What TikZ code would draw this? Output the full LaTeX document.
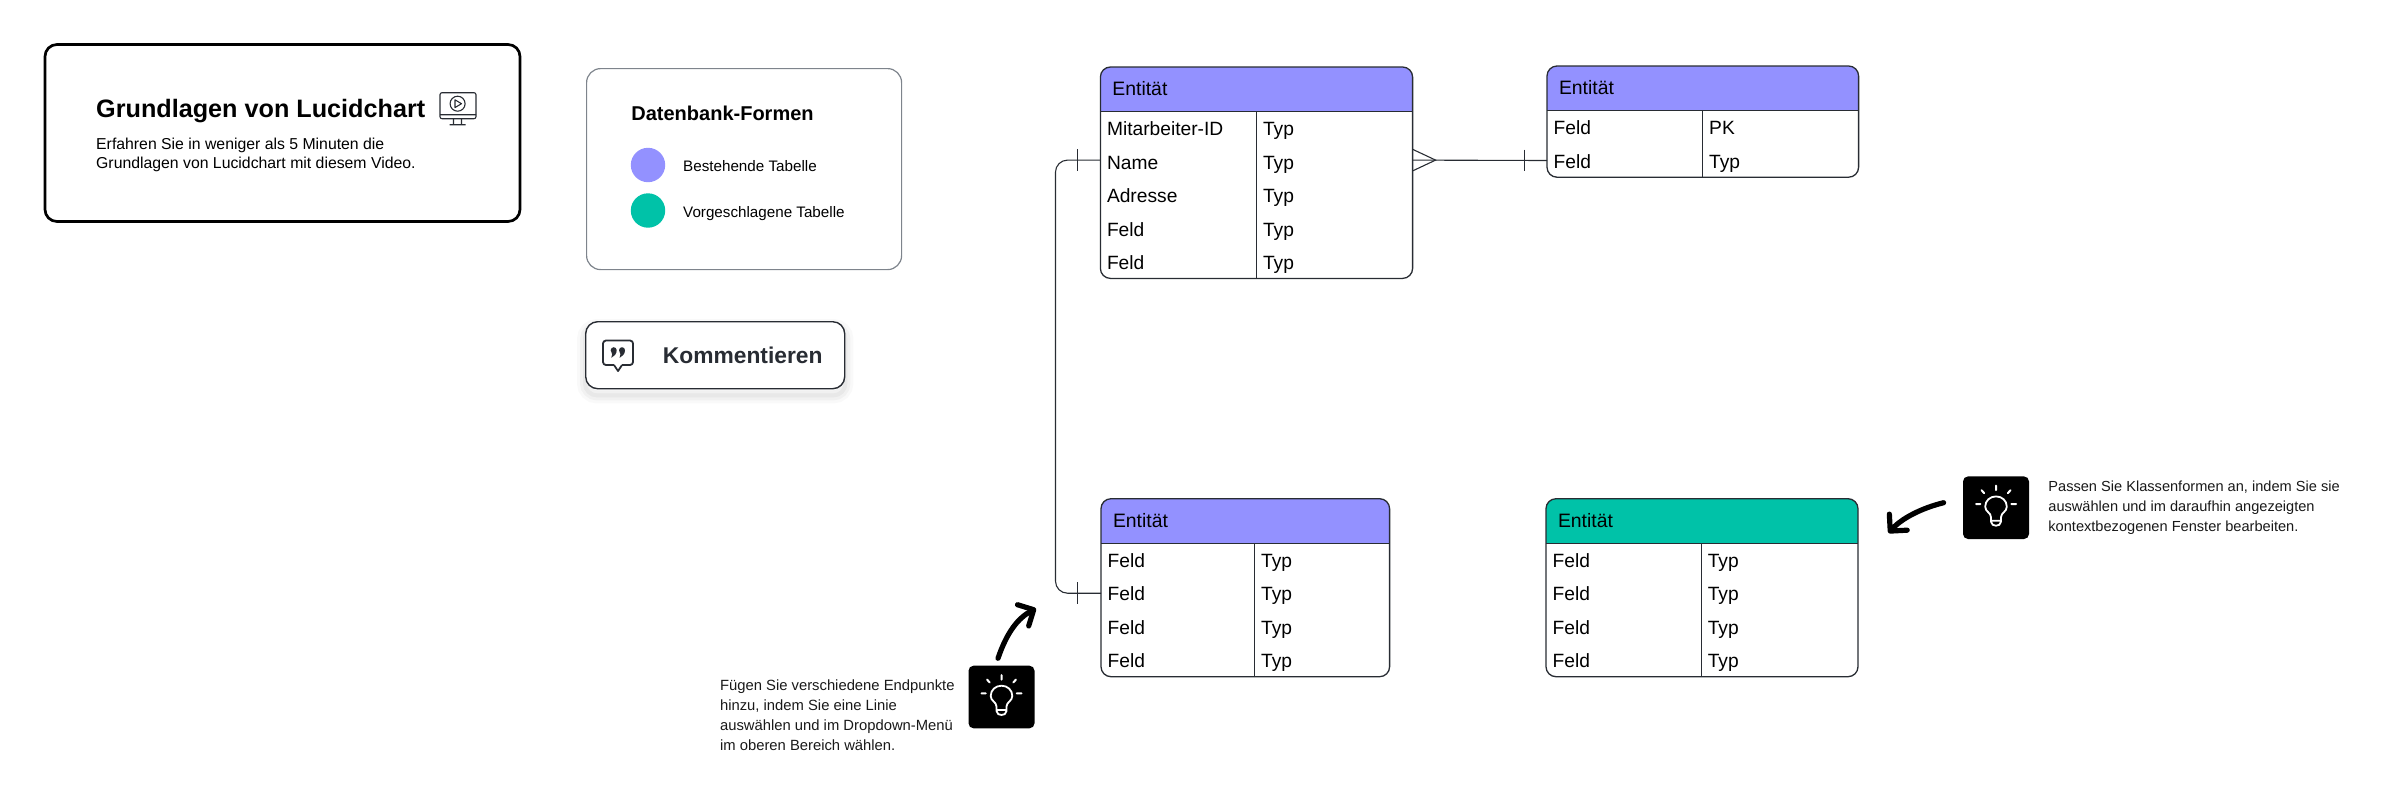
\documentclass[tikz,border=0pt]{standalone}
\usepackage{fontspec}
\setmainfont{Liberation Sans}
\usetikzlibrary{positioning,fit,backgrounds,arrows.meta}

\definecolor{hblue}{HTML}{9391FF}
\definecolor{hteal}{HTML}{00C2A8}
\definecolor{inkline}{HTML}{282C33}
\definecolor{softline}{HTML}{7E848C}

\tikzset{
  cell/.style={inner ysep=0pt, inner xsep=3.3pt, outer sep=0pt, text width=#1-6.6pt,
    text height=12.2pt, text depth=4.5pt, align=left, font=\fontsize{9.6}{11}\selectfont},
  headcell/.style={inner ysep=0pt, inner xsep=6pt, outer sep=0pt, text width=#1-12pt,
    text height=14.4pt, text depth=7.8pt, align=left, anchor=north west,
    font=\fontsize{9.7}{11}\selectfont},
  tablebox/.style={draw=inkline, line width=.65pt, rounded corners=5pt, inner sep=0pt, outer sep=0pt},
  tablerule/.style={draw=inkline, line width=.55pt},
  erline/.style={draw=inkline, line width=.55pt},
  notetext/.style={inner sep=0pt, align=left, anchor=north west, text=black!90,
    font=\fontsize{7.4}{10}\selectfont},
  legendtext/.style={inner sep=0pt, text height=7.3pt, text depth=.8pt, font=\fontsize{7.6}{9}\selectfont},
  legenddot/.style={circle, minimum size=17.2pt, inner sep=0pt, outer sep=0pt},
  tipbox/.style={fill=black, rounded corners=2.5pt, minimum width=33pt, minimum height=31.3pt, inner sep=0pt},
  handarrow/.style={draw=black, line width=2.6pt, line cap=round,
    -{Straight Barb[length=6pt, width=12pt, round]}},
  bulb/.pic={
    \draw[white, line width=.9pt, line join=round]
      (-5,9.5) .. controls (-5,5) and (-10.8,4) .. (-10.8,-1)
      .. controls (-10.8,-7) and (-6,-11.3) .. (0,-11.3)
      .. controls (6,-11.3) and (10.8,-7) .. (10.8,-1)
      .. controls (10.8,4) and (5,5) .. (5,9.5) -- (5,14)
      .. controls (5,17) and (2,18) .. (0,18)
      .. controls (-2,18) and (-5,17) .. (-5,14) -- cycle
      (-5,13) -- (5,13);
    \draw[white, line width=1pt, line cap=round]
      (0,-22) -- (0,-17.5) (-20,-3.7) -- (-15.7,-3.7) (15.3,-3.7) -- (20,-3.7)
      (-14.5,-17.5) -- (-11.8,-14.5) (14.5,-17.5) -- (11.8,-14.5);
  }
}

\begin{document}
\begin{tikzpicture}[x=.5pt, y=-.5pt]

    \path[use as bounding box] (0,0) rectangle (2400,804);

    % Title card
    \node[draw=black, line width=1.35pt, rounded corners=6pt, inner sep=0pt, outer sep=0pt,
          minimum width=237.5pt, minimum height=88.5pt, anchor=north west] (intro) at (45,44.5) {};
    \node[anchor=base west, inner sep=0pt, font=\bfseries\fontsize{12.6}{15}\selectfont] (introT) at (95.8,117) {Grundlagen von Lucidchart};
    \node[anchor=north west, inner sep=0pt, align=left, font=\fontsize{7.9}{9.6}\selectfont] (introS) at (95.8,137.5) {Erfahren Sie in weniger als 5 Minuten die\\Grundlagen von Lucidchart mit diesem Video.};

    % Video icon
    \draw[inkline, line width=.55pt, rounded corners=1pt] (440,92.7) rectangle (476,118.7);
    \draw[inkline, line width=.55pt] (440,114.7) -- (476,114.7) (453.5,118.7) -- (453.5,124.5) (461.5,118.7) -- (461.5,124.5)
      (449.5,124.7) -- (465.5,124.7) (457.6,103.7) circle[radius=7.5];
    \draw[inkline, line width=.55pt, line join=round] (455,99.8) -- (455,107.6) -- (461.5,103.7) -- cycle;

    % Legend
    \node[draw=softline, line width=.6pt, rounded corners=7pt, inner sep=0pt,
          minimum width=157.5pt, minimum height=100.5pt, anchor=north west] (legend) at (586,68) {};
    \node[anchor=base west, inner sep=0pt, font=\bfseries\fontsize{10}{12}\selectfont] (legendT) at (631,120) {Datenbank-Formen};
    \node[legenddot, fill=hblue] (dotOld) at (648,165) {};
    \node[legenddot, fill=hteal, below=5.55pt of dotOld] (dotNew) {};
    \node[legendtext, right=8.8pt of dotOld] (textOld) {Bestehende Tabelle};
    \node[legendtext, right=8.8pt of dotNew] (textNew) {Vorgeschlagene Tabelle};

    % Comment button
    \node[draw=inkline, fill=white, line width=.7pt, rounded corners=6pt, inner sep=0pt,
          minimum width=129.5pt, minimum height=33.5pt, anchor=north west] (button) at (585,321) {};
    \node[anchor=west, inner sep=0pt, text=inkline, font=\bfseries\fontsize{11.4}{13}\selectfont] (buttonT) at (662.5,355) {Kommentieren};
    \draw[inkline, line width=.9pt, line join=round, rounded corners=1.5pt]
      (614,365) -- (603,365) -- (603,340.5) -- (633,340.5) -- (633,365) -- (622,365);
    \draw[inkline, line width=.9pt, line join=round] (614,365) -- (618,371) -- (622,365);
    \fill[inkline] (613.7,350.2) circle[radius=3] (616.7,350.2) .. controls (616.7,354) and (614,356.5) .. (611.3,357.8)
      .. controls (612.6,355.5) and (612.4,353) .. (610.7,350.2) -- cycle;
    \fill[inkline] (622,350.2) circle[radius=3] (625,350.2) .. controls (625,354) and (622.3,356.5) .. (619.6,357.8)
      .. controls (620.9,355.5) and (620.7,353) .. (619,350.2) -- cycle;

    % Table top left
    \node[headcell=156.1pt] (empH) at (1100.4,67) {Entität};
    \node[cell=78pt, anchor=north west] (empA) at (empH.south west) {Mitarbeiter-ID};
    \node[cell=78pt, below=0pt of empA] (empB) {Name};
    \node[cell=78pt, below=0pt of empB] (empC) {Adresse};
    \node[cell=78pt, below=0pt of empC] (empD) {Feld};
    \node[cell=78pt, below=0pt of empD] (empE) {Feld};
    \node[cell=78.1pt, right=0pt of empA] (empAt) {Typ};
    \node[cell=78.1pt, right=0pt of empB] (empBt) {Typ};
    \node[cell=78.1pt, right=0pt of empC] (empCt) {Typ};
    \node[cell=78.1pt, right=0pt of empD] (empDt) {Typ};
    \node[cell=78.1pt, right=0pt of empE] (empEt) {Typ};

    % Table top right
    \node[headcell=155.8pt] (keyH) at (1547,66) {Entität};
    \node[cell=77.8pt, anchor=north west] (keyA) at (keyH.south west) {Feld};
    \node[cell=77.8pt, below=0pt of keyA] (keyB) {Feld};
    \node[cell=78pt, right=0pt of keyA] (keyAt) {PK};
    \node[cell=78pt, right=0pt of keyB] (keyBt) {Typ};

    % Table bottom left
    \node[headcell=144.3pt] (oldH) at (1101,498.7) {Entität};
    \node[cell=76.8pt, anchor=north west] (oldA) at (oldH.south west) {Feld};
    \node[cell=76.8pt, below=0pt of oldA] (oldB) {Feld};
    \node[cell=76.8pt, below=0pt of oldB] (oldC) {Feld};
    \node[cell=76.8pt, below=0pt of oldC] (oldD) {Feld};
    \node[cell=67.5pt, right=0pt of oldA] (oldAt) {Typ};
    \node[cell=67.5pt, right=0pt of oldB] (oldBt) {Typ};
    \node[cell=67.5pt, right=0pt of oldC] (oldCt) {Typ};
    \node[cell=67.5pt, right=0pt of oldD] (oldDt) {Typ};

    % Table bottom right
    \node[headcell=156pt] (newH) at (1546,498.7) {Entität};
    \node[cell=77.6pt, anchor=north west] (newA) at (newH.south west) {Feld};
    \node[cell=77.6pt, below=0pt of newA] (newB) {Feld};
    \node[cell=77.6pt, below=0pt of newB] (newC) {Feld};
    \node[cell=77.6pt, below=0pt of newC] (newD) {Feld};
    \node[cell=78.4pt, right=0pt of newA] (newAt) {Typ};
    \node[cell=78.4pt, right=0pt of newB] (newBt) {Typ};
    \node[cell=78.4pt, right=0pt of newC] (newCt) {Typ};
    \node[cell=78.4pt, right=0pt of newD] (newDt) {Typ};

    % Header fills and button shadow
    \begin{scope}[on background layer]
      \path[fill=hblue, rounded corners=5pt] (empH.south west) |- (empH.north) -| (empH.south east);
      \path[fill=hblue, rounded corners=5pt] (keyH.south west) |- (keyH.north) -| (keyH.south east);
      \path[fill=hblue, rounded corners=5pt] (oldH.south west) |- (oldH.north) -| (oldH.south east);
      \path[fill=hteal, rounded corners=5pt] (newH.south west) |- (newH.north) -| (newH.south east);
      \draw[black, opacity=.025, line width=8pt, rounded corners=6pt] ([yshift=-3pt]button.south west) rectangle ([yshift=-3pt]button.north east);
      \draw[black, opacity=.03, line width=5pt, rounded corners=6pt] ([yshift=-3pt]button.south west) rectangle ([yshift=-3pt]button.north east);
      \draw[black, opacity=.04, line width=2pt, rounded corners=6pt] ([yshift=-3pt]button.south west) rectangle ([yshift=-3pt]button.north east);
    \end{scope}

    % Outlines and rules
    \node[tablebox, fit=(empH)(empE)(empEt)] (empBox) {};
    \node[tablebox, fit=(keyH)(keyB)(keyBt)] (keyBox) {};
    \node[tablebox, fit=(oldH)(oldD)(oldDt)] (oldBox) {};
    \node[tablebox, fit=(newH)(newD)(newDt)] (newBox) {};
    \draw[tablerule] (empH.south west) -- (empH.south east);
    \draw[tablerule] (keyH.south west) -- (keyH.south east);
    \draw[tablerule] (oldH.south west) -- (oldH.south east);
    \draw[tablerule] (newH.south west) -- (newH.south east);
    \draw[tablerule] (empA.north east) -- (empE.south east);
    \draw[tablerule] (keyA.north east) -- (keyB.south east);
    \draw[tablerule] (oldA.north east) -- (oldD.south east);
    \draw[tablerule] (newA.north east) -- (newD.south east);

    % Connectors
    \coordinate (bend) at (1055.5,400);
    \coordinate (empLeft) at ([yshift=.7pt]empB.west);
    \coordinate (empRight) at ([yshift=.7pt]empBt.east);
    \coordinate (crowTip) at ([xshift=11.5pt]empRight);
    \coordinate[left=11.4pt of keyB.west] (keyBar);
    \coordinate[left=11.5pt of empLeft] (empBar);
    \coordinate[left=11.7pt of oldB.west] (oldBar);
    \draw[erline] (empRight) -- (keyB.west);
    \draw[erline] ([yshift=5.4pt]empRight) -- (crowTip) -- ([yshift=-5.4pt]empRight);
    \draw[erline] ([yshift=5.4pt]keyBar) -- ([yshift=-5.4pt]keyBar);
    \draw[erline, rounded corners=6pt] (empLeft) -| (bend) |- (oldB.west);
    \draw[erline] ([yshift=5.4pt]empBar) -- ([yshift=-5.4pt]empBar);
    \draw[erline] ([yshift=5.4pt]oldBar) -- ([yshift=-5.4pt]oldBar);

    % Hints
    \node[tipbox] (tipA) at (1001.5,697) {};
    \pic at (tipA.center) {bulb};
    \node[notetext] (noteA) at (719.7,679) {Fügen Sie verschiedene Endpunkte\\hinzu, indem Sie eine Linie\\auswählen und im Dropdown-Menü\\im oberen Bereich wählen.};
    \coordinate (tipAEnd) at (1036,608.5);
    \draw[handarrow] ([xshift=-1.75pt,yshift=3.5pt]tipA.north) .. controls (1007,632) and (1018,618) .. (tipAEnd);

    \node[tipbox] (tipB) at (1996,507.7) {};
    \pic at (tipB.center) {bulb};
    \node[notetext, font=\fontsize{7.3}{10}\selectfont] (noteB) at (2048,481) {Passen Sie Klassenformen an, indem Sie sie\\auswählen und im daraufhin angezeigten\\kontextbezogenen Fenster bearbeiten.};
    \coordinate (tipBEnd) at (1888.5,533);
    \draw[handarrow] ([xshift=-9.5pt,yshift=2.5pt]tipB.west) .. controls (1922,508) and (1902,518) .. (tipBEnd);

  \end{tikzpicture}
\end{document}
